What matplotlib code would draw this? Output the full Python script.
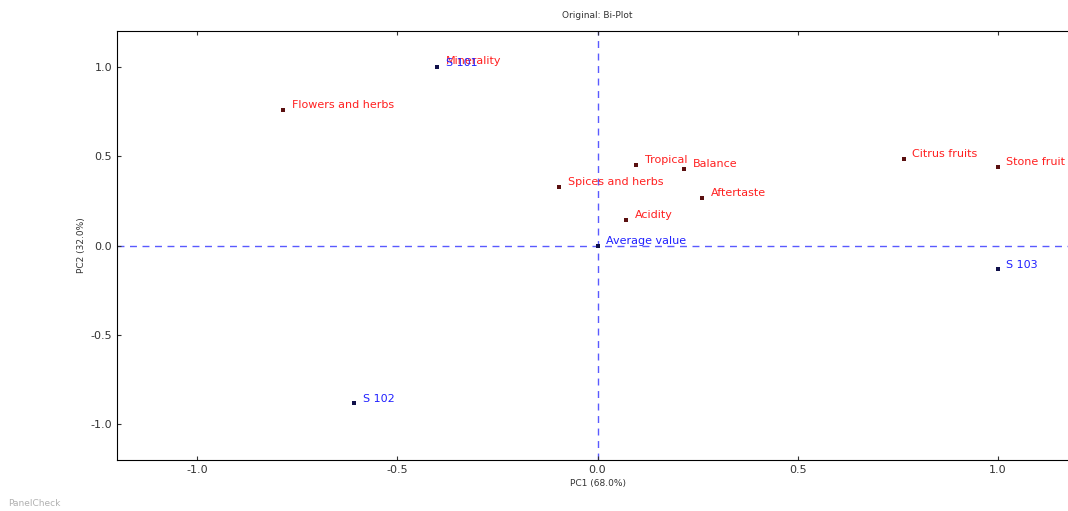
import matplotlib
matplotlib.use("Agg")
import matplotlib.pyplot as plt

plt.rcParams["axes.unicode_minus"] = False

# attribute loadings (red labels)
attr_names = ["Minerality", "Flowers and herbs", "Spices and herbs", "Tropical",
              "Balance", "Aftertaste", "Acidity", "Citrus fruits", "Stone fruit"]
attr_x = [-0.40, -0.785, -0.095, 0.097, 0.217, 0.262, 0.072, 0.765, 1.0]
attr_y = [1.0, 0.756, 0.325, 0.448, 0.426, 0.263, 0.14, 0.482, 0.437]

# sample scores (blue labels)
samp_names = ["S 101", "S 102", "S 103", "Average value"]
samp_x = [-0.40, -0.607, 1.0, 0.0]
samp_y = [1.0, -0.88, -0.134, 0.0]

W, H = 1068, 511
fig = plt.figure(figsize=(W / 100, H / 100), dpi=100)
ax = fig.add_axes([117 / W, 1 - 460 / H, (1078 - 117) / W, (460 - 31) / H])

ax.axhline(0, color="#5a5aff", lw=1.0, ls=(0, (5, 4)), zorder=1)
ax.axvline(0, color="#5a5aff", lw=1.0, ls=(0, (5, 4)), zorder=1)

ax.scatter(attr_x, attr_y, s=6, marker="s", color="#5a1010", zorder=3, lw=0)
ax.scatter(samp_x, samp_y, s=6, marker="s", color="#10104a", zorder=3, lw=0)

for n, x, y in zip(attr_names, attr_x, attr_y):
    ax.annotate(n, (x, y), xytext=(6, 4), textcoords="offset points",
                color="#ff2020", fontsize=8, va="center", ha="left", zorder=4)
for n, x, y in zip(samp_names, samp_x, samp_y):
    ax.annotate(n, (x, y), xytext=(6, 3), textcoords="offset points",
                color="#2020ff", fontsize=8, va="center", ha="left", zorder=5)

ax.set_xlim(-1.2, 1.2)
ax.set_ylim(-1.2, 1.2)
ax.set_xticks([-1.0, -0.5, 0.0, 0.5, 1.0])
ax.set_yticks([-1.0, -0.5, 0.0, 0.5, 1.0])
ax.tick_params(direction="in", top=True, right=True, labelsize=8,
               colors="#333333", length=3)
ax.set_xlabel("PC1 (68.0%)", fontsize=6.5, color="#333333", labelpad=3)
ax.set_ylabel("PC2 (32.0%)", fontsize=6.5, color="#333333", labelpad=3)
fig.text((117 + 1078) / 2 / W, 1 - 16 / H, "Original: Bi-Plot", ha="center",
         va="center", fontsize=6.5, color="#333333")
fig.text(8 / W, 1 - 504 / H, "PanelCheck", fontsize=6.5, color="#b0b0b0",
         va="center")

fig.savefig("out.png", dpi=100)
